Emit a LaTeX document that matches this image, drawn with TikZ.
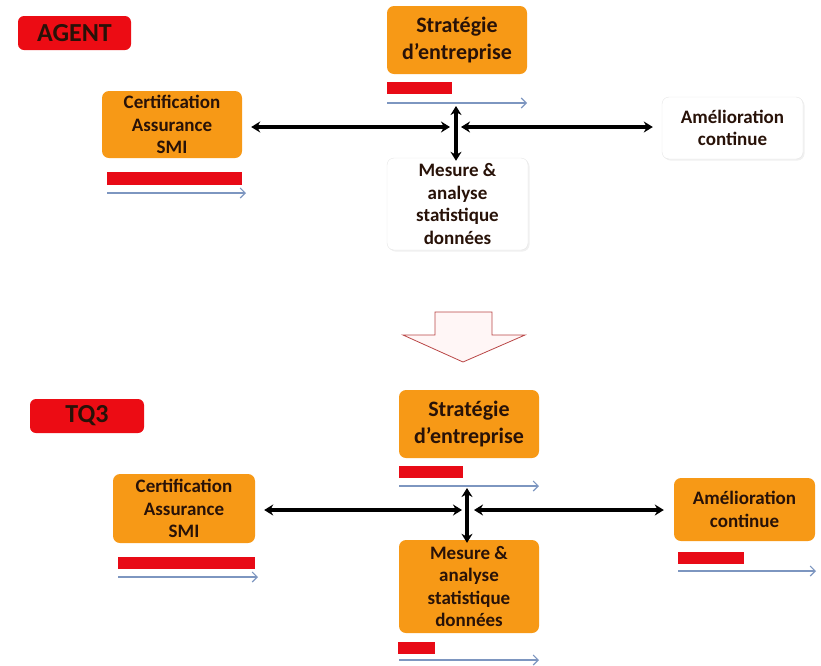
\documentclass[tikz,border=0pt]{standalone}
\usepackage{fontspec}
\setmainfont{Carlito}
\usetikzlibrary{arrows.meta,shadows}
\definecolor{orng}{RGB}{247,153,22}
\definecolor{rbar}{RGB}{232,10,22}
\definecolor{tagred}{RGB}{236,12,20}
\definecolor{txt}{RGB}{40,18,8}
\definecolor{bluea}{RGB}{125,150,192}
\definecolor{arrfill}{RGB}{255,246,246}
\definecolor{arrdraw}{RGB}{185,70,70}
\begin{document}
\begin{tikzpicture}[x=1pt,y=-1pt,
  box/.style={rounded corners=7pt, align=center, inner sep=0pt, text=txt,
    font=\bfseries\fontsize{19}{22.5}\selectfont},
  orangebox/.style={box, fill=orng},
  whitebox/.style={box, fill=white, draw=black!10,
    drop shadow={opacity=0.12, shadow xshift=1.5pt, shadow yshift=-1.5pt}},
  bigtext/.style={font=\bfseries\fontsize{22}{27}\selectfont},
  tag/.style={rounded corners=6pt, fill=tagred, text=txt, inner sep=0pt,
    font=\bfseries\fontsize{26}{28}\selectfont},
  dbl/.style={{Stealth[length=9pt,width=11pt]}-{Stealth[length=9pt,width=11pt]}, line width=3.6pt, black},
  barb/.style={-{Straight Barb[length=5pt,width=10pt]}, bluea, line width=1.1pt},
]
\useasboundingbox (0,0) rectangle (821,665);

% ---------- top (AGENT) ----------
\node[tag, minimum width=113pt, minimum height=34pt] (agent) at (74.5,33) {AGENT};
\node[orangebox, minimum width=140pt, minimum height=67pt] (cert1) at (172,124.5) {Certification\\Assurance\\SMI};
\node[orangebox, bigtext, minimum width=140pt, minimum height=68pt] (strat1) at (457,40) {Stratégie\\d’entreprise};
\node[whitebox, minimum width=141pt, minimum height=92pt] (mes1) at (457.5,204) {Mesure \&\\analyse\\statistique\\données};
\node[whitebox, minimum width=141pt, minimum height=62pt] (amel1) at (732.5,128) {Amélioration\\continue};

\fill[rbar] (107,172) rectangle (242,185);
\draw[barb] (107,193) -- (246,193);
\fill[rbar] (387,82) rectangle (452,94);
\draw[barb] (387,103) -- (527,103);

\coordinate (jl1) at (450,127);
\coordinate (jr1) at (461,127);
\coordinate (jt1) at (456,106);
\draw[dbl] ([xshift=9pt]cert1.east |- jl1) -- (jl1);
\draw[dbl] (jr1) -- ([xshift=-9pt]amel1.west |- jr1);
\draw[dbl] (jt1) -- ([yshift=-3pt]mes1.north -| jt1);

% ---------- big down arrow ----------
\draw[arrdraw, fill=arrfill, line width=0.8pt]
  (435,312) -- (492,312) -- (492,335) -- (525,335) -- (463,362) -- (403,335) -- (435,335) -- cycle;

% ---------- bottom (TQ3) ----------
\node[tag, minimum width=114pt, minimum height=34pt] (tq3) at (87,416) {TQ3};
\node[orangebox, minimum width=142pt, minimum height=69pt] (cert2) at (184,508.5) {Certification\\Assurance\\SMI};
\node[orangebox, bigtext, minimum width=140pt, minimum height=68pt] (strat2) at (469,424) {Stratégie\\d’entreprise};
\node[orangebox, minimum width=140pt, minimum height=93pt] (mes2) at (469,586.5) {Mesure \&\\analyse\\statistique\\données};
\node[orangebox, minimum width=141pt, minimum height=63pt] (amel2) at (744.5,509.5) {Amélioration\\continue};

\fill[rbar] (118,557) rectangle (255,569);
\draw[barb] (118,577) -- (258,577);
\fill[rbar] (399,466) rectangle (463,478);
\draw[barb] (399,486) -- (539,486);
\fill[rbar] (398,642) rectangle (435,654);
\draw[barb] (399,660) -- (539,660);
\fill[rbar] (678,552) rectangle (744,564);
\draw[barb] (678,571) -- (816,571);

\coordinate (jl2) at (462,510);
\coordinate (jr2) at (474,510);
\coordinate (jt2) at (467,488);
\draw[dbl] ([xshift=9pt]cert2.east |- jl2) -- (jl2);
\draw[dbl] (jr2) -- ([xshift=-10pt]amel2.west |- jr2);
\draw[dbl] (jt2) -- ([yshift=-3pt]mes2.north -| jt2);
\end{tikzpicture}
\end{document}
